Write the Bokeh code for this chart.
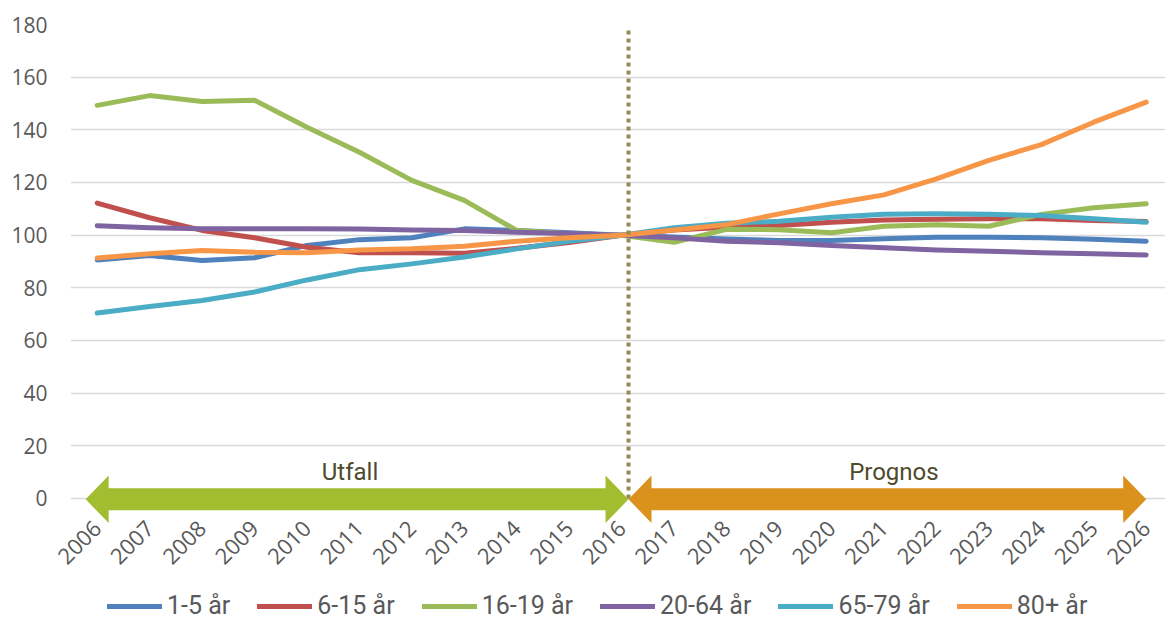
import math
from bokeh.plotting import figure
from bokeh.layouts import column
from bokeh.models import Legend, LegendItem, FixedTicker, Range1d, ColumnDataSource
from bokeh.core.properties import value
from bokeh.embed import file_html
from bokeh.resources import INLINE

# ---------------- data ----------------
years = [2006, 2007, 2008, 2009, 2010, 2011, 2012, 2013, 2014, 2015, 2016,
         2017, 2018, 2019, 2020, 2021, 2022, 2023, 2024, 2025, 2026]

series_names = ["1-5 år", "6-15 år", "16-19 år", "20-64 år", "65-79 år", "80+ år"]

age_1_5 = [90.6, 92.3, 90.4, 91.4, 96.1, 98.3, 99.0, 102.4, 101.8, 100.9, 100.0,
           99.3, 98.5, 98.0, 98.0, 98.6, 99.2, 99.2, 99.0, 98.4, 97.7]
age_6_15 = [112.2, 106.6, 101.8, 99.0, 95.4, 93.3, 93.3, 93.1, 95.0, 97.2, 100.0,
            102.0, 103.0, 103.7, 104.9, 105.8, 106.0, 106.2, 106.2, 105.6, 105.2]
age_16_19 = [149.3, 153.0, 150.8, 151.2, 141.0, 131.5, 120.8, 113.2, 101.8, 100.5, 100.0,
             97.3, 102.2, 102.1, 100.9, 103.4, 104.0, 103.4, 107.9, 110.4, 111.9]
age_20_64 = [103.6, 102.8, 102.4, 102.4, 102.4, 102.3, 102.0, 101.8, 101.1, 100.6, 100.0,
             99.0, 97.7, 97.1, 96.1, 95.2, 94.4, 93.9, 93.3, 92.9, 92.5]
age_65_79 = [70.4, 72.9, 75.2, 78.4, 83.0, 86.9, 89.1, 91.7, 94.8, 97.7, 100.0,
             102.8, 104.5, 105.3, 106.8, 107.9, 108.1, 107.9, 107.5, 106.2, 104.9]
age_80 = [91.3, 92.9, 94.2, 93.5, 93.3, 94.4, 94.8, 95.8, 97.7, 99.0, 100.0,
          102.0, 104.0, 108.1, 111.9, 115.3, 121.4, 128.4, 134.4, 142.9, 150.5]

series_values = [age_1_5, age_6_15, age_16_19, age_20_64, age_65_79, age_80]
series_colors = ["#4F81BD", "#C0504D", "#9BBB59", "#8064A2", "#4BACC6", "#F79646"]

y_ticks = [0, 20, 40, 60, 80, 100, 120, 140, 160, 180]

# period arrows (Utfall / Prognos)
period_labels = ["Utfall", "Prognos"]
period_start = [2005.78, 2016.13]
period_end = [2016.13, 2026.0]
period_label_x = [2010.82, 2021.19]
period_label_y = [10.0, 10.0]
period_colors = ["#A3BD31", "#DA921D"]
split_year = 2016.13
split_top = 177.7

# ---------------- main figure ----------------
p = figure(width=1165, height=583, output_backend="svg", toolbar_location=None,
           x_range=Range1d(2005.491, 2026.368), y_range=Range1d(-9.5, 180),
           min_border_left=70, min_border_right=0, min_border_top=24, min_border_bottom=60)
p.outline_line_color = None
p.background_fill_color = "white"
p.border_fill_color = "white"

p.xgrid.visible = False
p.ygrid.ticker = FixedTicker(ticks=y_ticks)
p.ygrid.grid_line_color = "#D9D9D9"
p.ygrid.grid_line_width = 1.5

for ax in (p.xaxis, p.yaxis):
    ax.axis_line_color = None
    ax.major_tick_line_color = None
    ax.minor_tick_line_color = None
    ax.major_tick_out = 0
    ax.major_tick_in = 0
    ax.major_label_text_font = "Open Sans"
    ax.major_label_text_color = "#595959"

p.yaxis.major_label_text_font_size = "21px"
p.yaxis.ticker = FixedTicker(ticks=y_ticks)
p.yaxis.major_label_standoff = 23
p.xaxis.major_label_text_font_size = "22px"
p.xaxis.ticker = FixedTicker(ticks=years)
p.xaxis.major_label_orientation = math.pi / 4
p.xaxis.major_label_standoff = 1

# data lines
for name, vals, col in zip(series_names, series_values, series_colors):
    src = ColumnDataSource(dict(x=years, y=vals))
    p.line("x", "y", source=src, line_color=col, line_width=5,
           line_cap="round", line_join="round")

# divider
p.segment(x0=[split_year], y0=[0], x1=[split_year], y1=[split_top],
          line_color="#948A54", line_width=4, line_dash="4 4", line_cap="butt")

# arrows
unit_y = 499.0 / 189.5      # px per y unit
unit_x = 52.45              # px per year
center = -0.3
shaft = 11.0 / unit_y
head_h = 23.8 / unit_y
head_l = 23.0 / unit_x
xs, ys = [], []
for x0, x1 in zip(period_start, period_end):
    xs.append([x0, x0 + head_l, x0 + head_l, x1 - head_l, x1 - head_l, x1,
               x1 - head_l, x1 - head_l, x0 + head_l, x0 + head_l])
    ys.append([center, center + head_h, center + shaft, center + shaft, center + head_h, center,
               center - head_h, center - shaft, center - shaft, center - head_h])
p.patches(xs, ys, fill_color=period_colors, line_color=None)

p.text(x=period_label_x, y=period_label_y, text=period_labels,
       text_font=value("Roboto"), text_font_size="24px",
       text_color="#4F4A2C", text_align="center", text_baseline="alphabetic")

# ---------------- legend strip ----------------
lg = figure(width=1165, height=36, output_backend="svg", toolbar_location=None,
            x_range=Range1d(0, 1), y_range=Range1d(0, 1),
            min_border_left=0, min_border_right=0, min_border_top=0, min_border_bottom=0)
lg.outline_line_color = None
lg.axis.visible = False
lg.grid.visible = False
items = []
for name, vals, col in zip(series_names, series_values, series_colors):
    # same series, far outside this strip's ranges: only the legend sample shows
    r = lg.line(x=years, y=vals, line_color=col, line_width=5, line_cap="round")
    items.append(LegendItem(label=name, renderers=[r]))

legend = Legend(items=items, orientation="horizontal", location=(37, -1),
                glyph_width=55, glyph_height=20, label_standoff=5, spacing=27,
                padding=0, margin=0, border_line_color=None, background_fill_alpha=0,
                label_text_font="Roboto", label_text_font_size="25px",
                label_text_color="#595959")
lg.add_layout(legend)

layout = column(p, lg, spacing=0)
open("out.html", "w").write(file_html(layout, INLINE))
